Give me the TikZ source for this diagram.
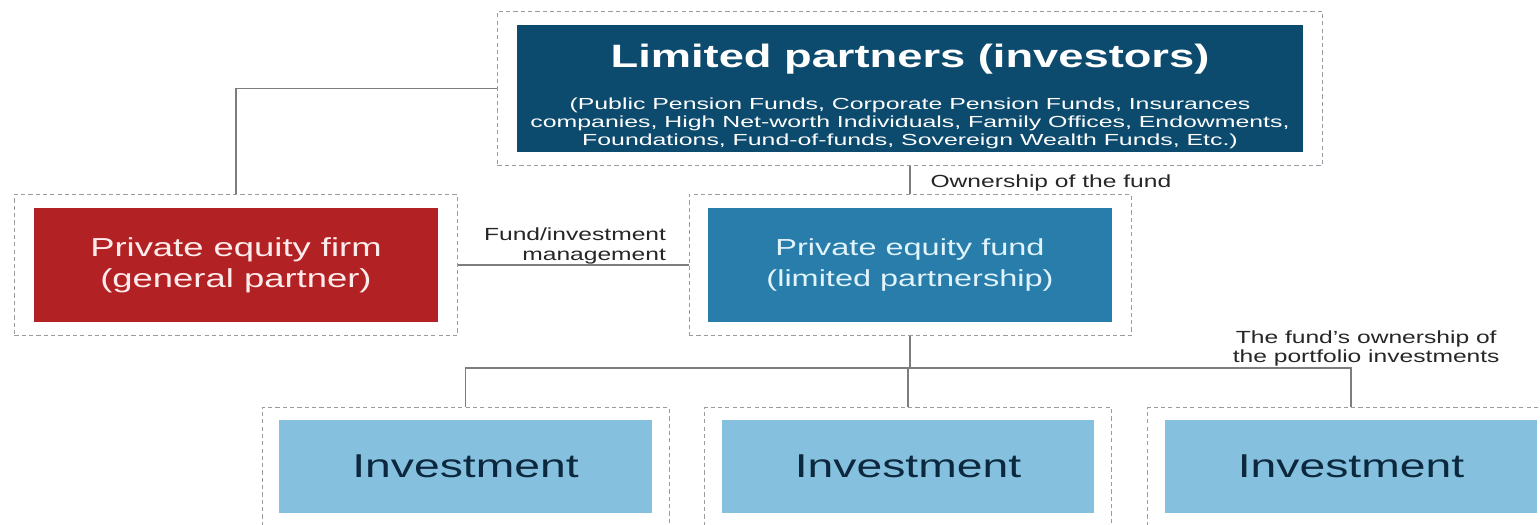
\documentclass[tikz,border=0pt]{standalone}
\usepackage{fontspec}
\setmainfont{Liberation Sans}[FakeStretch=1.4]
\newfontfamily\widesans{Liberation Sans}[FakeStretch=1.55]
\usetikzlibrary{fit}

\definecolor{lpblue}{RGB}{13,75,110}
\definecolor{gpred}{RGB}{178,34,36}
\definecolor{fundblue}{RGB}{40,125,170}
\definecolor{invblue}{RGB}{133,193,222}
\definecolor{invtext}{RGB}{12,40,62}
\definecolor{fundtext}{RGB}{225,243,252}
\definecolor{linkgray}{RGB}{125,125,125}
\definecolor{dashgray}{RGB}{150,156,162}

\tikzset{
  card/.style={inner sep=0pt, align=center},
  frame/.style={draw=dashgray, dash pattern=on 3pt off 2.2pt, line width=0.6pt,
    inner xsep=0.48cm, inner ysep=0.33cm},
  link/.style={draw=linkgray, line width=0.8pt},
  note/.style={inner sep=0pt, text=black!85, font=\fontsize{12.5}{14}\selectfont},
}

\begin{document}
\begin{tikzpicture}[x=0.025cm, y=-0.025cm]
\useasboundingbox (0,0) rectangle (1540,525);

% limited partners on top
\node[card, fill=lpblue, minimum width=19.65cm, minimum height=3.175cm] (lp) at (910,88.5) {};
\node[card, text=white, font=\widesans\fontsize{11.4}{12.5}\selectfont] (lptext) at (910,96)
  {{\rmfamily\bfseries\fontsize{23}{26}\selectfont Limited partners (investors)}\\[16.5pt]
   (Public Pension Funds, Corporate Pension Funds, Insurances\\
   companies, High Net-worth Individuals, Family Offices, Endowments,\\
   Foundations, Fund-of-funds, Sovereign Wealth Funds, Etc.)};
\node[frame, fit=(lp)] (lpframe) {};

% general partner and fund
\node[card, fill=gpred, text=white!92!red, minimum width=10.1cm, minimum height=2.85cm,
  font=\fontsize{18.5}{22}\selectfont] (firm) at (236,265)
  {Private equity firm\\(general partner)};
\node[frame, fit=(firm)] (firmframe) {};

\node[card, fill=fundblue, text=fundtext, minimum width=10.075cm, minimum height=2.85cm,
  font=\fontsize{16.5}{22}\selectfont] (fund) at (910,265)
  {Private equity fund\\(limited partnership)};
\node[frame, fit=(fund)] (fundframe) {};

% portfolio investments
\foreach \i/\x in {1/465.5, 2/908, 3/1351} {
  \node[card, fill=invblue, text=invtext, minimum width=9.3cm, minimum height=2.325cm,
    font=\fontsize{23.5}{24}\selectfont] (inv\i) at (\x,466.5) {Investment};
  \node[frame, inner xsep=0.43cm, inner ysep=0.3cm, fit=(inv\i)] (inv\i frame) {};
}

% connectors
\draw[link] (lpframe.west) -| (firmframe.north);
\draw[link] (lpframe.south) -- node[note, anchor=west, xshift=0.5cm, yshift=-0.07cm]
  {Ownership of the fund} (fundframe.north);
\draw[link] (firmframe.east) -- (fundframe.west)
  node[note, pos=1, anchor=south east, align=right, xshift=-0.55cm, yshift=0.01cm]
  {Fund/investment\\management};

\coordinate (split) at (908,368);
\draw[link] (fundframe.south) -- (fundframe.south |- split);
\draw[link] (inv1frame.north) |- (inv3frame.north |- split) -- (inv3frame.north);
\draw[link] (inv2frame.north) -- (inv2frame.north |- split);
\node[note, align=center, anchor=south, xshift=0.38cm, yshift=0.03cm] (portnote)
  at (inv3frame.north |- split) {The fund's ownership of\\the portfolio investments};
\end{tikzpicture}
\end{document}
